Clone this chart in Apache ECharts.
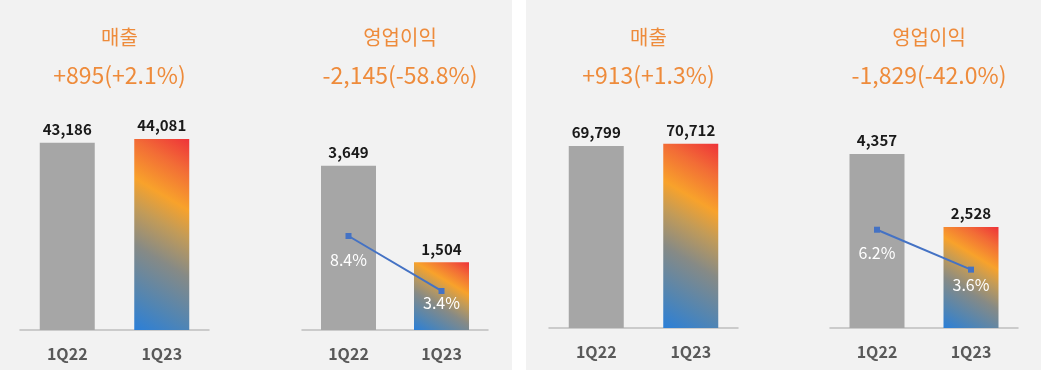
<!DOCTYPE html>
<html>
<head>
<meta charset="utf-8">
<script src="https://cdn.jsdelivr.net/npm/echarts@6/dist/echarts.min.js"></script>
<style>
  html, body { margin: 0; padding: 0; background: #fff; }
  .panel { position: absolute; top: 0; height: 370px; background: #f2f2f2; }
  #chart { position: absolute; left: 0; top: 0; width: 1041px; height: 375px; }
</style>
</head>
<body>
<div class="panel" style="left: 0; width: 512px;"></div>
<div class="panel" style="left: 526px; width: 515px;"></div>
<div id="chart"></div>
<script>
// 데이터
const categories = ['1Q22', '1Q23'];
const salesA = [43186, 44081];
const opA = [3649, 1504];
const marginA = [8.4, 3.4];
const salesB = [69799, 70712];
const opB = [4357, 2528];
const marginB = [6.2, 3.6];
const titles = ['매출', '영업이익', '매출', '영업이익'];
const subtitles = ['+895(+2.1%)', '-2,145(-58.8%)', '+913(+1.3%)', '-1,829(-42.0%)'];

let chart = echarts.init(document.getElementById('chart'));

const orange = '#EE8B3B';
const font = '"Noto Sans CJK KR", "Noto Sans", sans-serif';
const barW = 55;

// 각 차트 위치
const grids = [
    { left: 20, width: 189, top: 70, bottom: 45 },
    { left: 302, width: 186, top: 70, bottom: 45 },
    { left: 549, width: 189, top: 70, bottom: 47 },
    { left: 830, width: 188, top: 70, bottom: 47 }
];
const barMax = [60000, 5780, 99000, 6460];

// 고정 각도 그라데이션 (막대 비율에 맞춰 환산)
function grad(ratio) {
    const ux = 0.514, uy = 0.857;
    const L = ux + uy * ratio;
    return new echarts.graphic.LinearGradient(0, 1, ux * L, 1 - uy * L / ratio, [
        { offset: 0, color: '#2b7fd8' },
        { offset: 0.16, color: '#5185b3' },
        { offset: 0.38, color: '#868a86' },
        { offset: 0.55, color: '#c29b58' },
        { offset: 0.68, color: '#f8a22b' },
        { offset: 0.85, color: '#f26c36' },
        { offset: 1, color: '#ee3339' }
    ]);
}

function barData(vals, i) {
    const gh = 375 - grids[i].top - grids[i].bottom;
    return vals.map((v, k) => ({
        value: v,
        itemStyle: { color: k === 0 ? '#a6a6a6' : grad(v / barMax[i] * gh / barW) }
    }));
}

let option = {
    animation: false,
    textStyle: { fontFamily: font },
    title: titles.map((t, i) => ({
        text: t,
        subtext: subtitles[i],
        left: grids[i].left + grids[i].width / 2,
        textAlign: 'center',
        top: 22,
        itemGap: 17,
        textStyle: { color: orange, fontSize: 20, fontWeight: 'normal', fontFamily: font },
        subtextStyle: { color: orange, fontSize: 23, fontFamily: font }
    })),
    grid: grids,
    xAxis: grids.map((g, i) => ({
        type: 'category',
        gridIndex: i,
        data: categories,
        axisLine: { lineStyle: { color: '#bfbfbf', width: 1.5 } },
        axisTick: { show: false },
        axisLabel: { color: '#595959', fontSize: 16, fontWeight: 'bold', margin: 16, fontFamily: font }
    })),
    yAxis: [
        ...grids.map((g, i) => ({ type: 'value', gridIndex: i, min: 0, max: barMax[i], show: false })),
        { type: 'value', gridIndex: 1, min: -0.15, max: 23.5, show: false },
        { type: 'value', gridIndex: 3, min: -0.2, max: 16.6, show: false }
    ],
    series: []
};

[salesA, opA, salesB, opB].forEach((vals, i) => {
    option.series.push({
        type: 'bar',
        xAxisIndex: i,
        yAxisIndex: i,
        barWidth: barW,
        data: barData(vals, i),
        label: {
            show: true,
            position: 'top',
            distance: 6,
            color: '#1a1a1a',
            fontSize: 15,
            fontWeight: 'bold',
            fontFamily: font,
            formatter: p => p.value.toLocaleString('en-US')
        }
    });
});

// 라벨 간격 (점 아래)
[[marginA, 1, 4, [13, 1]], [marginB, 3, 5, [12, 4]]].forEach(([vals, xi, yi, gaps]) => {
    option.series.push({
        type: 'line',
        xAxisIndex: xi,
        yAxisIndex: yi,
        data: vals.map((v, k) => ({ value: v, label: { distance: gaps[k] } })),
        symbol: 'rect',
        symbolSize: 6,
        lineStyle: { color: '#4472C4', width: 2 },
        itemStyle: { color: '#4472C4' },
        label: {
            show: true,
            position: 'bottom',
            color: '#fff',
            fontSize: 16,
            fontFamily: font,
            formatter: p => p.value.toFixed(1) + '%'
        },
        z: 5
    });
});

option && chart.setOption(option);
</script>
</body>
</html>
